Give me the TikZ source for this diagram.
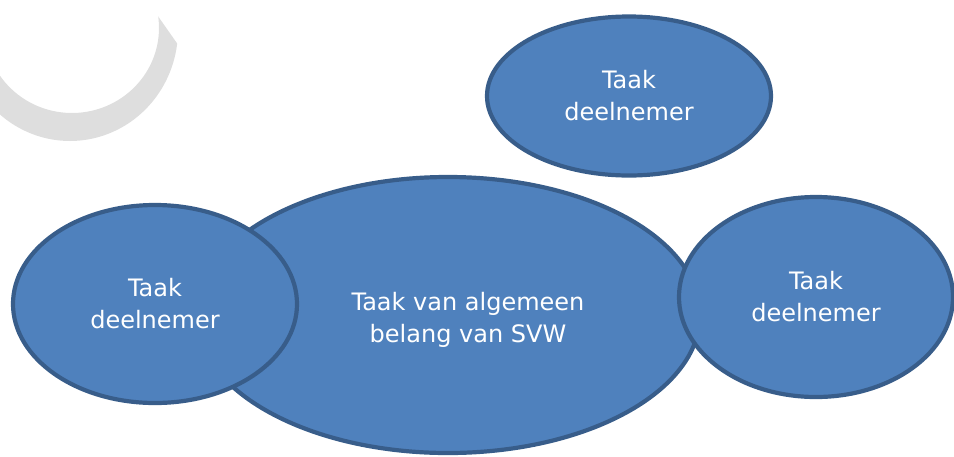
\documentclass[tikz,border=0pt]{standalone}
\usepackage{fontspec}
\setmainfont{DejaVu Sans}
\usetikzlibrary{shapes.geometric}
\definecolor{taakfill}{HTML}{4F81BD}
\definecolor{taakrand}{HTML}{385D8A}
\definecolor{boog}{HTML}{DEDEDE}
\begin{document}
\begin{tikzpicture}[x=1pt, y=-1pt,
    taak/.style={ellipse, draw=taakrand, fill=taakfill, line width=4.2pt, inner sep=0pt,
        text=white, align=center, font=\fontsize{24}{32}\selectfont},
    tekst/.style={text=white, align=center, font=\fontsize{24}{32}\selectfont}]
    \clip (0,0) rectangle (954,456);
    \fill[boog] plot[domain=-7.8:160, samples=60] ({72+87*cos(\x)},{28+85*sin(\x)})
        -- plot[domain=160:7, samples=60] ({70+108*cos(\x)},{30+111*sin(\x)}) -- cycle;
    \node[taak, minimum width=504, minimum height=276] (algemeen) at (448,315) {};
    \node[tekst] (algemeentekst) at (468,320) {Taak van algemeen\\belang van SVW};
    \node[taak, minimum width=284, minimum height=159] (boven) at (629,96) {Taak\\deelnemer};
    \node[taak, minimum width=284, minimum height=198] (links) at (155,304) {Taak\\deelnemer};
    \node[taak, minimum width=274, minimum height=200] (rechts) at (816,297) {Taak\\deelnemer};
\end{tikzpicture}
\end{document}
